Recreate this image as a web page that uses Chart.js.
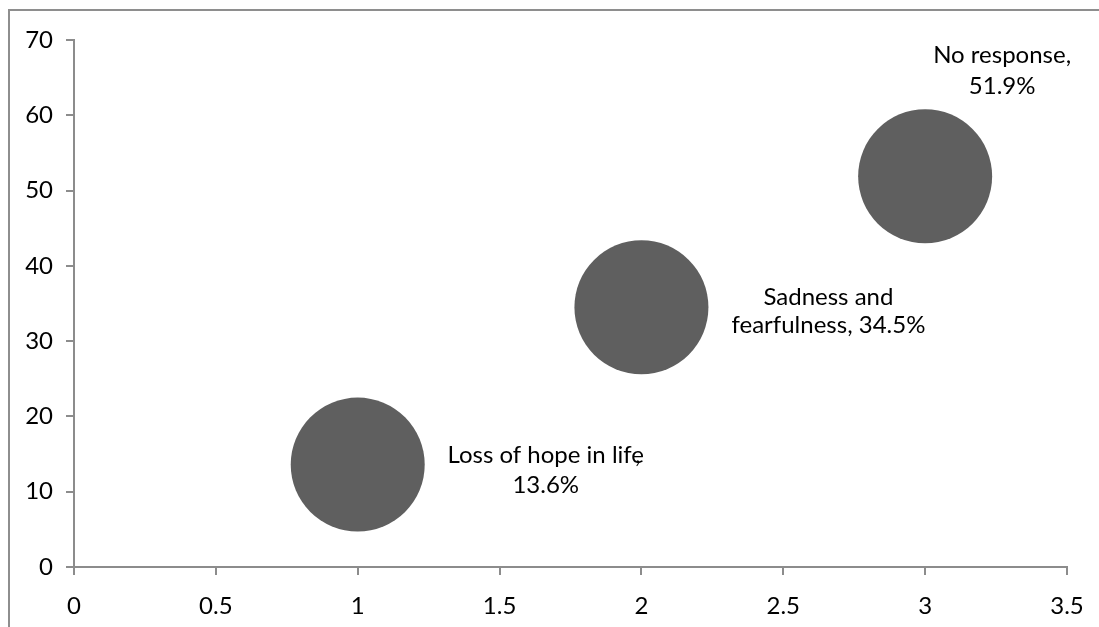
<!DOCTYPE html>
<html>
<head>
<meta charset="utf-8">
<script src="https://cdn.jsdelivr.net/npm/chart.js@4/dist/chart.umd.min.js"></script>
<style>
  html, body { margin: 0; padding: 0; background: #fff; overflow: hidden; }
  #wrap { position: relative; width: 1099px; height: 627px; }
  #frame {
    position: absolute; left: 8px; top: 9px; width: 1200px; height: 1000px;
    border-left: 2px solid #8e8e8e; border-top: 2px solid #8e8e8e;
  }
  canvas { position: absolute; left: 0; top: 0; }
</style>
</head>
<body>
<div id="wrap">
  <div id="frame"></div>
  <canvas id="chart" width="1099" height="627"></canvas>
</div>
<script>
// Responses and their shares (percent)
const xValues = [1, 2, 3];
const yValues = [13.6, 34.5, 51.9];
const pointLabels = [
  ['Loss of hope in life,', '13.6%'],
  ['Sadness and', 'fearfulness, 34.5%'],
  ['No response,', '51.9%']
];
const xTickValues = [0, 0.5, 1, 1.5, 2, 2.5, 3, 3.5];
const yTickValues = [0, 10, 20, 30, 40, 50, 60, 70];

// Where each label sits relative to its bubble centre (first-line baseline)
const labelPlacement = [
  { dx: 188, dy: -2, gap: 30, tuckComma: true },
  { dx: 187, dy: -2, gap: 28 },
  { dx: 77, dy: -113, gap: 31 }
];

const FONT = 'Lato, "Liberation Sans", sans-serif';
const FONT_SIZE = 24;
const AXIS_GREY = '#8c8c8c';

const bubbleLabels = {
  id: 'bubbleLabels',
  afterDatasetsDraw(chart) {
    const ctx = chart.ctx;
    const meta = chart.getDatasetMeta(0);
    ctx.save();
    ctx.font = FONT_SIZE + 'px ' + FONT;
    ctx.fillStyle = '#000';
    ctx.textBaseline = 'alphabetic';
    meta.data.forEach((pt, i) => {
      const p = labelPlacement[i];
      pointLabels[i].forEach((line, j) => {
        const cx = pt.x + p.dx;
        const by = pt.y + p.dy + j * p.gap;
        if (p.tuckComma && line.endsWith(',')) {
          // comma tucked under the final letter
          const body = line.slice(0, -1);
          const w = ctx.measureText(body).width;
          ctx.textAlign = 'left';
          ctx.fillText(body, cx - w / 2, by);
          const lastW = ctx.measureText(body.slice(-1)).width;
          ctx.fillText(',', cx + w / 2 - lastW * 0.7, by);
        } else {
          ctx.textAlign = 'center';
          ctx.fillText(line, cx, by);
        }
      });
    });
    ctx.restore();
  }
};

new Chart(document.getElementById('chart'), {
  type: 'bubble',
  data: {
    datasets: [{
      data: xValues.map((x, i) => ({ x: x, y: yValues[i] })),
      backgroundColor: '#5f5f5f',
      borderColor: '#5f5f5f',
      borderWidth: 0,
      radius: 67,
      clip: false
    }]
  },
  options: {
    responsive: false,
    animation: false,
    events: [],
    layout: { autoPadding: false, padding: { left: 0, right: 32, top: 40, bottom: 0 } },
    plugins: { legend: { display: false }, tooltip: { enabled: false } },
    scales: {
      x: {
        type: 'linear',
        min: 0, max: 3.5,
        afterBuildTicks(s) { s.ticks = xTickValues.map(v => ({ value: v })); },
        afterFit(s) { s.height = 60; s.paddingLeft = 0; s.paddingRight = 0; },
        ticks: { font: { family: FONT, size: FONT_SIZE }, color: '#000', padding: 17,
                 callback: v => String(v) },
        grid: { drawOnChartArea: false, drawTicks: true, tickLength: 8, color: AXIS_GREY, lineWidth: 2 },
        border: { color: AXIS_GREY, width: 2 }
      },
      y: {
        type: 'linear',
        min: 0, max: 70,
        afterBuildTicks(s) { s.ticks = yTickValues.map(v => ({ value: v })); },
        afterFit(s) { s.width = 74; s.paddingTop = 0; s.paddingBottom = 0; },
        ticks: { font: { family: FONT, size: FONT_SIZE }, color: '#000', padding: 13,
                 callback: v => String(v) },
        grid: { drawOnChartArea: false, drawTicks: true, tickLength: 8, color: AXIS_GREY, lineWidth: 2 },
        border: { color: AXIS_GREY, width: 2 }
      }
    }
  },
  plugins: [bubbleLabels]
});
</script>
</body>
</html>
